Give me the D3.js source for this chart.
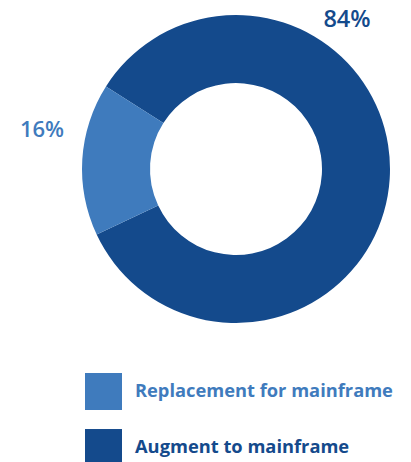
<!DOCTYPE html>
<html>
<head>
<meta charset="utf-8">
<script src="https://cdn.jsdelivr.net/npm/d3@7"></script>
<style>
  body { margin: 0; background: #fff; }
  text { font-family: 'Open Sans', 'Liberation Sans', sans-serif; }
</style>
</head>
<body>
<div id="chart"></div>
<script>
const categories = ['Augment to mainframe', 'Replacement for mainframe']
const values = [84, 16]
const colors = ['#144a8c', '#3f7bbd']
const legendOrder = ['Replacement for mainframe', 'Augment to mainframe']

const width = 411
const height = 462
const cx = 236
const cy = 169
const outerR = 154
const innerR = 86

const data = categories.map((c, i) => ({ name: c, value: values[i], color: colors[i] }))

const svg = d3.select('#chart').append('svg').attr('width', width).attr('height', height)

const startOffset = -(values[1] / d3.sum(values)) * 2 * Math.PI
const pie = d3.pie().value((d) => d.value).sort(null)
  .startAngle(startOffset).endAngle(startOffset + 2 * Math.PI)
const arc = d3.arc().innerRadius(innerR).outerRadius(outerR)

const g = svg.append('g').attr('transform', `translate(${cx},${cy})`)
const arcs = pie(data)
g.selectAll('path')
  .data(arcs)
  .enter()
  .append('path')
  .attr('d', arc)
  .attr('fill', (d) => d.data.color)

// percentage labels
const labelPos = [
  { x: 347, y: 27 },
  { x: 42, y: 137 }
]
svg.selectAll('text.pct')
  .data(arcs)
  .enter()
  .append('text')
  .attr('class', 'pct')
  .attr('x', (d, i) => labelPos[i].x)
  .attr('y', (d, i) => labelPos[i].y)
  .attr('text-anchor', 'middle')
  .attr('font-size', (d, i) => (i === 0 ? 23.5 : 22))
  .attr('font-weight', 600)
  .attr('fill', (d) => d.data.color)
  .text((d) => `${d.data.value}%`)

// legend
const legendY = d3.scaleBand().domain(legendOrder).range([373, 466]).paddingInner(0.34)
const colorOf = d3.scaleOrdinal().domain(categories).range(colors)
const legend = svg.selectAll('g.leg')
  .data(legendOrder)
  .enter()
  .append('g')
  .attr('class', 'leg')
  .attr('transform', (d) => `translate(85,${legendY(d)})`)
legend.append('rect')
  .attr('width', 37)
  .attr('height', 37)
  .attr('fill', (d) => colorOf(d))
legend.append('text')
  .attr('x', 50)
  .attr('y', 24)
  .attr('font-size', 18.3)
  .attr('font-weight', 700)
  .attr('fill', (d) => colorOf(d))
  .text((d) => d)
</script>
</body>
</html>
